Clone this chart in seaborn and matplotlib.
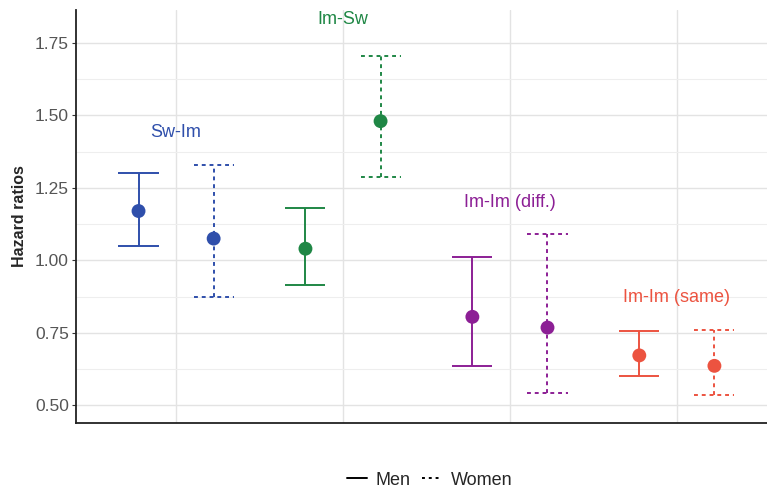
#!/usr/bin/env python
# coding: utf-8

import numpy as np
import pandas as pd
import matplotlib
matplotlib.use('Agg')
import seaborn as sns
import matplotlib.pyplot as plt
from matplotlib.lines import Line2D
from matplotlib.ticker import MultipleLocator

groups = ['Sw-Im', 'Im-Sw', 'Im-Im (diff.)', 'Im-Im (same)']
colors = ['#2f4fab', '#1f8745', '#8c1f95', '#ec5340']
label_y = [1.44, 1.83, 1.20, 0.87]

men_hr = [1.17, 1.04, 0.805, 0.672]
men_lo = [1.05, 0.915, 0.637, 0.600]
men_hi = [1.302, 1.180, 1.012, 0.755]

women_hr = [1.075, 1.48, 0.768, 0.636]
women_lo = [0.875, 1.286, 0.543, 0.536]
women_hi = [1.328, 1.705, 1.092, 0.760]

rows = []
for i, g in enumerate(groups):
    rows.append([g, 'Men', i + 1 - 0.225, men_hr[i], men_lo[i], men_hi[i], colors[i]])
    rows.append([g, 'Women', i + 1 + 0.225, women_hr[i], women_lo[i], women_hi[i], colors[i]])
df = pd.DataFrame(rows, columns=['group', 'sex', 'x', 'hr', 'lo', 'hi', 'color'])

sns.set_theme(style="whitegrid")
plt.rcParams['font.family'] = ['Liberation Sans', 'DejaVu Sans']

fig = plt.figure(figsize=(7.67, 4.91), dpi=100)
ax = fig.add_axes([0.099, 0.138, 0.901, 0.842])

cap = 0.12
for _, r in df.iterrows():
    ls = '-' if r['sex'] == 'Men' else (0, (2, 2))
    ax.vlines(r['x'], r['lo'], r['hi'], color=r['color'], lw=1.4, linestyles=ls, zorder=3)
    ax.hlines([r['lo'], r['hi']], r['x'] - cap, r['x'] + cap, color=r['color'], lw=1.4,
              linestyles=ls, zorder=3)

sns.scatterplot(data=df, x='x', y='hr', hue='group', palette=colors, s=100,
                edgecolor='none', legend=False, ax=ax, zorder=4)

for i, g in enumerate(groups):
    ax.text(i + 1, label_y[i], g, color=colors[i], ha='center', va='center',
            fontsize=13, fontweight='medium')

ax.set_xlim(0.4, 4.54)
ax.set_ylim(0.438, 1.864)
ax.set_xticks([1, 2, 3, 4])
ax.set_xticklabels([])
ax.yaxis.set_minor_locator(MultipleLocator(0.125))
ax.set_yticks([0.5, 0.75, 1.0, 1.25, 1.5, 1.75])
ax.set_yticklabels(['0.50', '0.75', '1.00', '1.25', '1.50', '1.75'])
ax.grid(which='major', color='#e3e3e3', lw=1.0)
ax.grid(which='minor', axis='y', color='#eeeeee', lw=0.8)
ax.tick_params(axis='y', which='major', length=3, width=0.8, color='#333333',
               labelsize=12.5, labelcolor='#555555', left=True, pad=2)
ax.tick_params(axis='y', which='minor', length=0)
ax.tick_params(axis='x', length=0)
ax.set_xlabel('')
ax.set_ylabel('Hazard ratios', fontsize=11.5, fontweight='bold', labelpad=6)

for s in ['top', 'right']:
    ax.spines[s].set_visible(False)
for s in ['left', 'bottom']:
    ax.spines[s].set_visible(True)
    ax.spines[s].set_color('#222222')
    ax.spines[s].set_linewidth(1.3)

handles = [Line2D([], [], color='black', lw=1.4, ls='-'),
           Line2D([], [], color='black', lw=1.4, ls=(0, (1.5, 2)))]
fig.legend(handles, ['Men', 'Women'], loc='center', bbox_to_anchor=(0.56, 0.022),
           ncol=2, frameon=False, fontsize=13, handlelength=1.1, handletextpad=0.5,
           columnspacing=0.6)

plt.savefig('out.png', dpi=100)
